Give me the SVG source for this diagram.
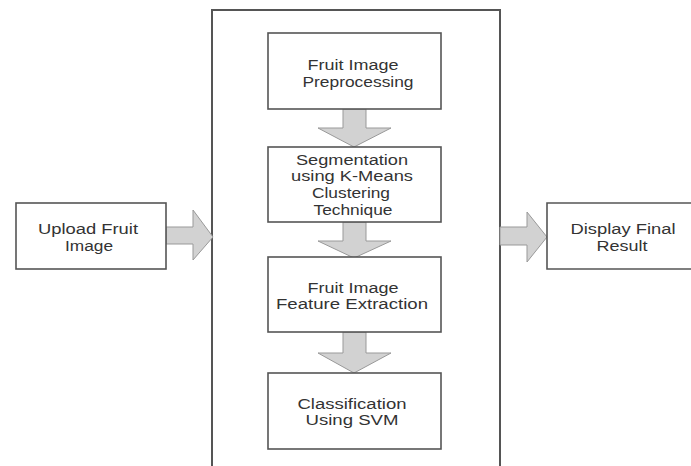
<svg xmlns="http://www.w3.org/2000/svg" width="691" height="466" viewBox="0 0 691 466">
<style>
.box{fill:#fff;stroke:#555;stroke-width:1.6}
.cont{fill:#fff;stroke:#555;stroke-width:2}
.arr{fill:#d2d2d2;stroke:#999;stroke-width:1}
text{font-family:"Liberation Sans",Arial,sans-serif;font-size:14px;fill:#333;text-anchor:middle}
</style>
<rect width="691" height="466" fill="#fff"/>
<g id="container"><path class="cont" d="M212,470 V10 H500 V470"/></g>
<g id="connectors">
<path class="arr" d="M166,227 H193 V210 L213,237 L193,260 V244 H166 Z"/>
<path class="arr" d="M500,227 H527 V212 L547,237 L527,262 V245 H500 Z"/>
<path class="arr" d="M343,109 H366 V128 H391 L354,147 L318,128 H343 Z"/>
<path class="arr" d="M343,222 H366 V241 H391 L354,258 L318,241 H343 Z"/>
<path class="arr" d="M343,332 H366 V353 H391 L354,373 L318,353 H343 Z"/>
</g>
<g id="upload">
<rect class="box" x="16" y="203" width="150" height="66"/>
<text x="88" y="234" textLength="100" lengthAdjust="spacingAndGlyphs">Upload Fruit</text>
<text x="89" y="251" textLength="48" lengthAdjust="spacingAndGlyphs">Image</text>
</g>
<g id="preprocessing">
<rect class="box" x="268" y="33" width="173" height="76"/>
<text x="353" y="70" textLength="91" lengthAdjust="spacingAndGlyphs">Fruit Image</text>
<text x="358" y="87" textLength="111" lengthAdjust="spacingAndGlyphs">Preprocessing</text>
</g>
<g id="segmentation">
<rect class="box" x="268" y="147" width="173" height="75"/>
<text x="352" y="165" textLength="112" lengthAdjust="spacingAndGlyphs">Segmentation</text>
<text x="352" y="181" textLength="122" lengthAdjust="spacingAndGlyphs">using K-Means</text>
<text x="351" y="198" textLength="78" lengthAdjust="spacingAndGlyphs">Clustering</text>
<text x="353" y="215" textLength="79" lengthAdjust="spacingAndGlyphs">Technique</text>
</g>
<g id="feature">
<rect class="box" x="268" y="257" width="173" height="75"/>
<text x="353" y="293" textLength="91" lengthAdjust="spacingAndGlyphs">Fruit Image</text>
<text x="352" y="309" textLength="152" lengthAdjust="spacingAndGlyphs">Feature Extraction</text>
</g>
<g id="classification">
<rect class="box" x="268" y="373" width="173" height="76"/>
<text x="352" y="409" textLength="109" lengthAdjust="spacingAndGlyphs">Classification</text>
<text x="352" y="425" textLength="93" lengthAdjust="spacingAndGlyphs">Using SVM</text>
</g>
<g id="display">
<path class="box" d="M693,203 H547 V269 H693"/>
<text x="623" y="234" textLength="105" lengthAdjust="spacingAndGlyphs">Display Final</text>
<text x="622" y="251" textLength="51" lengthAdjust="spacingAndGlyphs">Result</text>
</g>
</svg>
